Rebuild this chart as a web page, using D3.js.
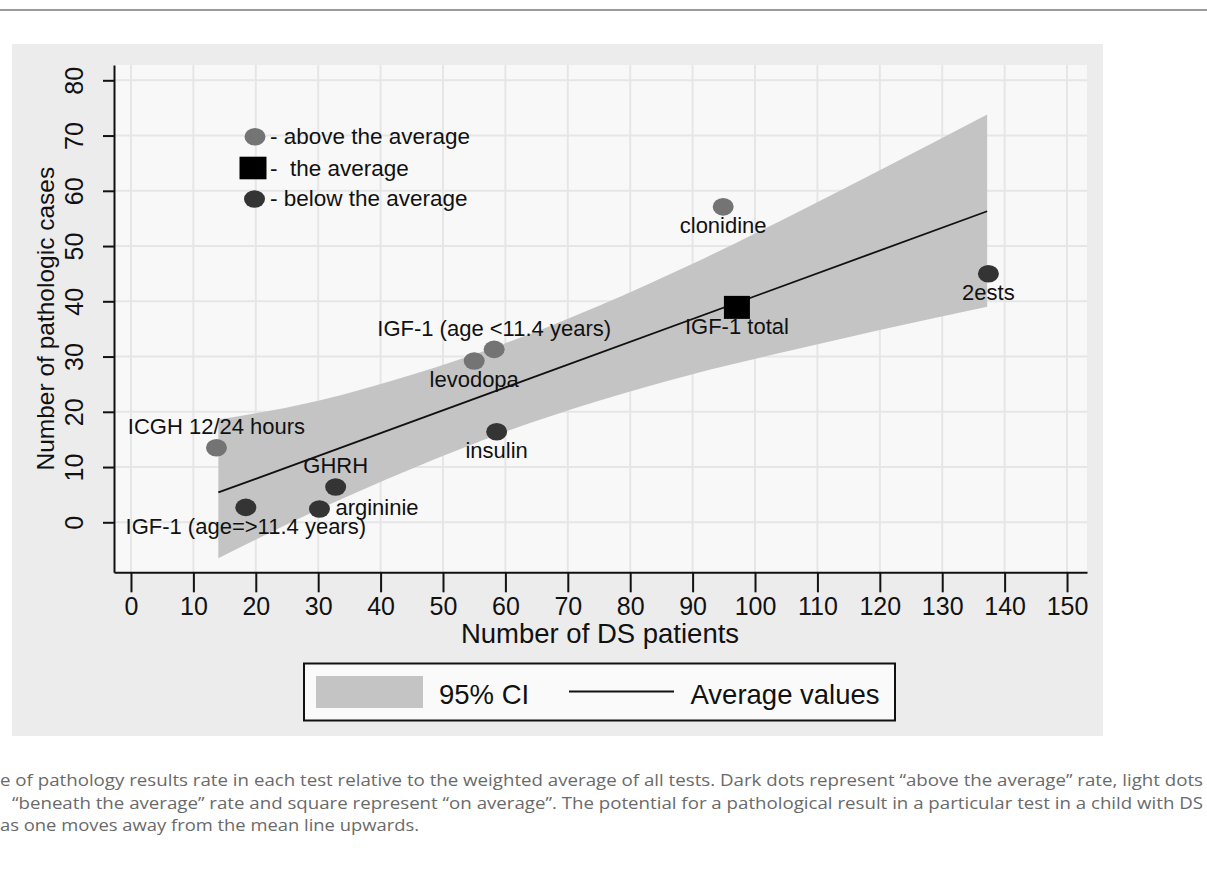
<!DOCTYPE html>
<html>
<head>
<meta charset="utf-8">
<script src="https://cdn.jsdelivr.net/npm/d3@7"></script>
<style>
  html, body { margin: 0; padding: 0; background: #fff; }
  svg { display: block; }
  .ax text { font-family: "Liberation Sans", Arial, sans-serif; fill: #111; }
</style>
</head>
<body>
<svg width="1207" height="872"></svg>
<script>
// tests
const tests = ['ICGH 12/24 hours', 'IGF-1 (age=>11.4 years)', 'argininie', 'GHRH', 'levodopa',
  'IGF-1 (age <11.4 years)', 'insulin', 'clonidine', 'IGF-1 total', '2ests']
const patients = [13.7, 18.4, 30.2, 32.8, 55.0, 58.2, 58.6, 94.9, 97.1, 137.4]
const pathologic = [13.5, 2.7, 2.4, 6.4, 29.2, 31.3, 16.4, 57.1, 38.9, 45.0]
const group = ['above', 'below', 'below', 'below', 'above', 'above', 'below', 'above', 'average', 'below']

// fitted line and 95% CI band
const fitX = [14, 137.2]
const fitY = [5.4, 56.3]
const bandX = [14, 30, 45, 60, 75, 90, 105, 120, 137.2]
const bandUpper = [18.6, 22.0, 26.7, 32.4, 39.2, 46.8, 55.1, 63.7, 73.8]
const bandLower = [-6.5, 2.3, 9.7, 16.4, 22.0, 26.8, 30.9, 34.8, 39.0]

const xTicks = d3.range(0, 151, 10)
const yTicks = d3.range(0, 81, 10)

const legendItems = ['- above the average', '-  the average', '- below the average']
const caption = [
  'e of pathology results rate in each test relative to the weighted average of all tests. Dark dots represent \u201cabove the average\u201d rate, light dots',
  '\u201cbeneath the average\u201d rate and square represent \u201con average\u201d. The potential for a pathological result in a particular test in a child with DS',
  'as one moves away from the mean line upwards.'
]

const svg = d3.select('svg')
const font = '"Liberation Sans", Arial, sans-serif'

// page rule + grey graph region
svg.append('line').attr('x1', 0).attr('x2', 1207).attr('y1', 10).attr('y2', 10)
  .attr('stroke', '#9a9a9a').attr('stroke-width', 2)
svg.append('rect').attr('x', 12).attr('y', 44).attr('width', 1091).attr('height', 692)
  .attr('fill', '#ececec')

const plot = {left: 114, right: 1087, top: 65, bottom: 572.3}

const x = d3.scaleLinear().domain([-2.72, 153.2]).range([plot.left, plot.right])
const y = d3.scaleLinear().domain([-9.05, 82.77]).range([plot.bottom, plot.top])

svg.append('rect')
  .attr('x', plot.left).attr('y', plot.top)
  .attr('width', plot.right - plot.left).attr('height', plot.bottom - plot.top)
  .attr('fill', '#f8f8f8')

// grid
const grid = svg.append('g').attr('stroke', '#e6e6e6').attr('stroke-width', 2)
grid.selectAll('line.v').data(xTicks).join('line').attr('class', 'v')
  .attr('x1', d => x(d)).attr('x2', d => x(d)).attr('y1', plot.top).attr('y2', plot.bottom)
grid.selectAll('line.h').data(yTicks).join('line').attr('class', 'h')
  .attr('y1', d => y(d)).attr('y2', d => y(d)).attr('x1', plot.left).attr('x2', plot.right)

// CI band
const band = bandX.map((d, i) => ({x: d, hi: bandUpper[i], lo: bandLower[i]}))
svg.append('path')
  .datum(band)
  .attr('fill', '#c4c4c4')
  .attr('d', d3.area().curve(d3.curveMonotoneX)
    .x(d => x(d.x)).y0(d => y(d.lo)).y1(d => y(d.hi)))

// fitted line
svg.append('path')
  .datum(fitX.map((d, i) => [d, fitY[i]]))
  .attr('fill', 'none').attr('stroke', '#111').attr('stroke-width', 1.8)
  .attr('d', d3.line().x(d => x(d[0])).y(d => y(d[1])))

// axes
const xAxis = svg.append('g').attr('class', 'ax')
  .attr('transform', `translate(0,${plot.bottom})`)
  .call(d3.axisBottom(x).tickValues(xTicks).tickSize(20).tickSizeOuter(0).tickPadding(5))
xAxis.selectAll('text').attr('font-size', 25).attr('font-family', font)

const yAxis = svg.append('g').attr('class', 'ax')
  .attr('transform', `translate(${plot.left},0)`)
  .call(d3.axisLeft(y).tickValues(yTicks).tickSize(11).tickSizeOuter(0))
yAxis.selectAll('text')
  .attr('font-size', 25).attr('font-family', font)
  .attr('transform', 'rotate(-90)')
  .attr('text-anchor', 'middle')
  .attr('x', 0).attr('y', -31).attr('dy', null)

svg.selectAll('.ax path, .ax line').attr('stroke', '#111').attr('stroke-width', 2)

svg.append('text').attr('x', 600).attr('y', 643)
  .attr('text-anchor', 'middle').attr('font-family', font).attr('font-size', 27.5)
  .attr('fill', '#111').text('Number of DS patients')

svg.append('text')
  .attr('transform', `translate(53.5,${(plot.top + plot.bottom) / 2}) rotate(-90)`)
  .attr('text-anchor', 'middle').attr('font-family', font).attr('font-size', 24.5)
  .attr('fill', '#111').text('Number of pathologic cases')

// points
const colour = {above: '#747474', below: '#343434', average: '#000'}
const pts = tests.map((t, i) => ({name: t, px: patients[i], py: pathologic[i], g: group[i]}))

svg.append('g').selectAll('ellipse')
  .data(pts.filter(d => d.g !== 'average')).join('ellipse')
  .attr('cx', d => x(d.px)).attr('cy', d => y(d.py))
  .attr('rx', 10.5).attr('ry', 8.8)
  .attr('fill', d => colour[d.g])

svg.append('g').selectAll('rect')
  .data(pts.filter(d => d.g === 'average')).join('rect')
  .attr('x', d => x(d.px) - 13).attr('y', d => y(d.py) - 11.5)
  .attr('width', 26).attr('height', 23)
  .attr('fill', colour.average)

// where each label sits relative to its marker
const labelPlace = {
  'ICGH 12/24 hours': 'above', 'GHRH': 'above', 'IGF-1 (age <11.4 years)': 'above',
  'argininie': 'right'
}
svg.append('g').selectAll('text')
  .data(pts).join('text')
  .attr('font-family', font).attr('font-size', 22).attr('fill', '#111')
  .attr('text-anchor', d => labelPlace[d.name] === 'right' ? 'start' : 'middle')
  .attr('x', d => x(d.px) + (labelPlace[d.name] === 'right' ? 16 : 0))
  .attr('y', d => {
    const p = labelPlace[d.name]
    if (p === 'above') return y(d.py) - 13.5
    if (p === 'right') return y(d.py) + 5.5
    return y(d.py) + 26.5
  })
  .text(d => d.name)

// marker key inside the plot
const key = svg.append('g')
key.append('ellipse').attr('cx', 255).attr('cy', 136.7).attr('rx', 10.5).attr('ry', 8.8).attr('fill', colour.above)
key.append('rect').attr('x', 239.5).attr('y', 156.7).attr('width', 27).attr('height', 22.6).attr('fill', colour.average)
key.append('ellipse').attr('cx', 254.5).attr('cy', 199).attr('rx', 10.5).attr('ry', 8.8).attr('fill', colour.below)
key.selectAll('text').data(legendItems).join('text')
  .attr('x', 270).attr('y', (d, i) => [144, 175.5, 206][i])
  .attr('font-family', font).attr('font-size', 22.5).attr('fill', '#111')
  .attr('xml:space', 'preserve')
  .text(d => d)

// bottom legend
const lg = svg.append('g')
lg.append('rect').attr('x', 304).attr('y', 663.5).attr('width', 591).attr('height', 57)
  .attr('fill', '#fafafa').attr('stroke', '#111').attr('stroke-width', 2)
lg.append('rect').attr('x', 316).attr('y', 676).attr('width', 107).attr('height', 32).attr('fill', '#c4c4c4')
lg.append('text').attr('x', 439).attr('y', 704).attr('font-family', font).attr('font-size', 27.5)
  .attr('fill', '#111').text('95% CI')
lg.append('line').attr('x1', 569).attr('x2', 674).attr('y1', 691.5).attr('y2', 691.5)
  .attr('stroke', '#111').attr('stroke-width', 1.8)
lg.append('text').attr('x', 690.5).attr('y', 704).attr('font-family', font).attr('font-size', 27.5)
  .attr('fill', '#111').text('Average values')

// caption below the figure
const capX = [0, 12, 0]
const capW = [1203, 1191, 419]
svg.append('g').selectAll('text').data(caption).join('text')
  .attr('x', (d, i) => capX[i]).attr('y', (d, i) => 786 + i * 22.7)
  .attr('font-family', '"Open Sans", sans-serif').attr('font-size', 16.5)
  .attr('fill', '#6a6a6a')
  .attr('textLength', (d, i) => capW[i]).attr('lengthAdjust', 'spacingAndGlyphs')
  .text(d => d)
</script>
</body>
</html>
